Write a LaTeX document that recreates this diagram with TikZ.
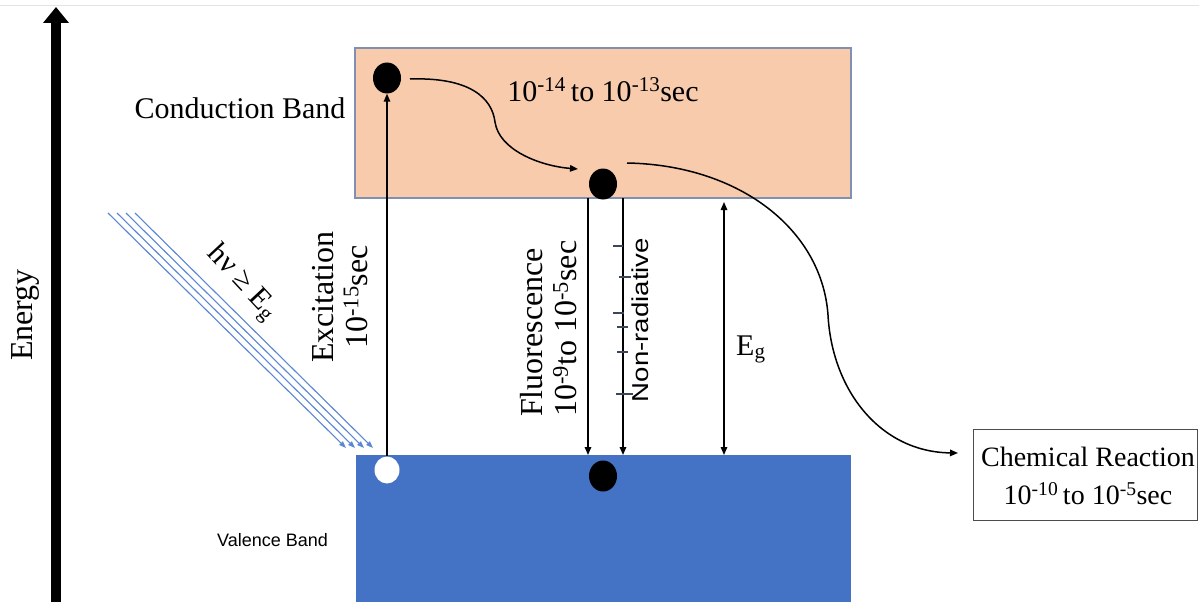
\documentclass[tikz,border=0pt]{standalone}
\usepackage{fontspec}
\setmainfont{Liberation Serif}
\newfontfamily\sansf{Liberation Sans}
\usetikzlibrary{arrows.meta,shapes.geometric}
\definecolor{cbfill}{HTML}{F8CBAD}
\definecolor{cbline}{HTML}{7F90B0}
\definecolor{vbfill}{HTML}{4472C4}
\definecolor{ray}{HTML}{5B87D3}
\definecolor{tickc}{HTML}{3A475A}
\definecolor{topline}{HTML}{E4E4E4}

\begin{document}
\begin{tikzpicture}[x=1pt,y=-1pt,
  conn/.style={line width=1.5pt,-{Triangle[length=8pt,width=6.5pt]}},
  dconn/.style={line width=1.5pt,{Triangle[length=8pt,width=6.5pt]}-{Triangle[length=8pt,width=6.5pt]}},
  rayline/.style={draw=ray,line width=1.1pt,-{Triangle[length=7pt,width=5pt]},fill=ray},
  electron/.style={ellipse,fill=black,minimum width=28pt,minimum height=31pt,inner sep=0pt},
  hole/.style={ellipse,fill=white,minimum width=25pt,minimum height=27pt,inner sep=0pt},
  band/.style={inner sep=0pt,outer sep=0pt,anchor=north west},
  lbl/.style={inner sep=0pt,font=\fontsize{30}{34}\selectfont},
  vlbl/.style={inner sep=0pt,font=\fontsize{32}{34}\selectfont,rotate=90},
  tickmark/.style={draw=tickc,line width=2.6pt}]

\useasboundingbox (0,0) rectangle (1199,602);
\fill[white] (0,0) rectangle (1199,602);
\draw[topline,line width=1pt] (0,6) -- (1199,6);

% energy axis
\coordinate (ebot) at (56,602);
\coordinate (etop) at (56,7);
\draw[line width=10pt,-{Triangle[length=16pt,width=25pt]}] (ebot) -- (etop);
\node[vlbl] (energy) at (25,315) {Energy};

% bands
\node[band,draw=cbline,line width=1.2pt,fill=cbfill,minimum width=496pt,minimum height=150pt] (cb) at (355,48) {};
\node[band,fill=vbfill,minimum width=495pt,minimum height=147pt] (vb) at (356,455) {};

\node[lbl,anchor=base] (cblabel) at (240,118) {Conduction Band};
\node[inner sep=0pt,anchor=base west,font=\sansf\fontsize{18}{20}\selectfont] (vblabel) at (217,546) {Valence Band};

% carriers
\node[electron] (e1) at (387,78) {};
\node[electron] (e2) at (603,184) {};
\node[hole] (h1) at (387,470) {};
\node[electron] (e3) at (603,476) {};

% excitation
\draw[conn] (h1.north) -- (e1.south);
\node[vlbl,align=center] (exlabel) at (340,297) {Excitation\\10\textsuperscript{-15}sec};

% relaxation inside the conduction band
\coordinate (r1s) at (410,79);
\coordinate (r1e) at (578,169);
\draw[conn] (r1s) .. controls (470,77) and (492,98) .. (495,122)
  .. controls (499,150) and (540,166) .. (r1e);
\node[lbl,anchor=base] (cbtime) at (603,101) {10\textsuperscript{-14}\,to 10\textsuperscript{-13}sec};

% recombination paths
\coordinate (fl) at (588,0);
\coordinate (nr) at (623,0);
\coordinate (eg) at (724,0);
\draw[conn] (cb.south -| fl) -- (vb.north -| fl);
\draw[conn] (cb.south -| nr) -- (vb.north -| nr);
\draw[dconn] ([yshift=-4pt]cb.south -| eg) -- (vb.north -| eg);
\foreach \yy/\aa/\bb in {246/613/623,277/619/631,313/613/624,327/617/628,352/617/628,394/616/633}
  \draw[tickmark] (\aa,\yy) -- (\bb,\yy);

\node[vlbl,align=left,anchor=west] (fllabel) at (549,417) {Fluorescence\\10\textsuperscript{-9}to 10\textsuperscript{-5}sec};
\node[inner sep=0pt,rotate=90,font=\sansf\fontsize{23}{26}\selectfont] (nrlabel) at (640,320) {\scalebox{1.2}[1]{Non-radiative}};
\node[lbl,anchor=base west] (eglabel) at (736,355) {E\textsubscript{g}};

% incoming light
\foreach \i/\sx/\ex in {1/108/346,2/117/355,3/126/364,4/135/373} {
  \coordinate (ls\i) at (\sx,213);
  \coordinate (le\i) at (\ex,448);
  \draw[rayline] (ls\i) -- (le\i);
}
\node[lbl,rotate=-47] (hvlabel) at (242,283) {hν ≥ E\textsubscript{g}};

% chemical reaction
\node[draw=black!70,line width=1pt,minimum width=224pt,minimum height=91pt,inner sep=0pt] (chem) at (1085,474.5) {};
\node[align=center,inner sep=0pt,font=\fontsize{28}{38}\selectfont] (chemtext) at (1088,476) {Chemical Reaction\\10\textsuperscript{-10}\,to 10\textsuperscript{-5}sec};
\coordinate (r2s) at (627,163);
\coordinate (r2e) at (958,453);
\draw[conn] (r2s) .. controls (740,165) and (822,230) .. (828,315)
  .. controls (832,390) and (880,452) .. (r2e);
\end{tikzpicture}
\end{document}
